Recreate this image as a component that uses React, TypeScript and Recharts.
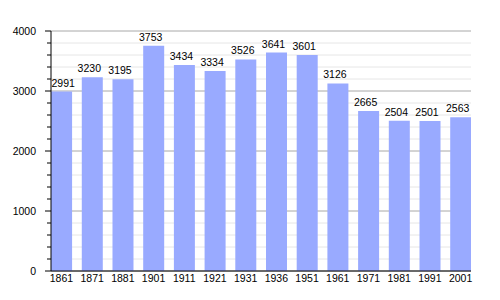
import React from "react";
import { BarChart, Bar, XAxis, YAxis, CartesianGrid, LabelList } from "recharts";

const years = ["1861", "1871", "1881", "1901", "1911", "1921", "1931", "1936", "1951", "1961", "1971", "1981", "1991", "2001"];
const population = [2991, 3230, 3195, 3753, 3434, 3334, 3526, 3641, 3601, 3126, 2665, 2504, 2501, 2563];
const majorTicks = [0, 1000, 2000, 3000, 4000];
const minorTicks = [200, 400, 600, 800, 1200, 1400, 1600, 1800, 2200, 2400, 2600, 2800, 3200, 3400, 3600, 3800];
const allTicks = [...majorTicks, ...minorTicks].sort((a, b) => a - b);

const data = years.map((y, i) => ({ idx: i, year: y, value: population[i] }));
const xTicks = years.map((_, i) => i);

const FONT = "'Liberation Sans', Arial, sans-serif";
const FS = 10.5;
const Y_AXIS_WIDTH = 51;
const MARGIN_LEFT = 0;
const PLOT_LEFT = MARGIN_LEFT + Y_AXIS_WIDTH;

const YTick = (props: any) => {
  const { x, y, payload } = props;
  const v = payload.value as number;
  const major = v % 1000 === 0;
  return (
    <g>
      <line x1={x - (major ? 6 : 4)} x2={x} y1={y} y2={y} stroke="#000" strokeWidth={1} />
      {major && (
        <text x={x - 15} y={y} dy="0.355em" textAnchor="end" fontSize={FS} fontFamily={FONT} fill="#000">
          {v}
        </text>
      )}
    </g>
  );
};

const ValueLabel = (props: any) => {
  const { x, y, width, value } = props;
  const s = String(value);
  const tw = s.length * FS * 0.556;
  let cx = Number(x) + Number(width) / 2 - 3;
  if (cx - tw / 2 < PLOT_LEFT + 0.5) cx = PLOT_LEFT + 0.5 + tw / 2;
  return (
    <text x={cx} y={Number(y) - 5} textAnchor="middle" fontSize={FS} fontFamily={FONT} fill="#000">
      {s}
    </text>
  );
};

export default function App() {
  return (
    <div style={{ position: "absolute", left: 0, top: 0, width: 500, height: 300, background: "#fff" }}>
      <BarChart width={500} height={300} data={data} margin={{ top: 31, right: 29, left: MARGIN_LEFT, bottom: 0 }}>
        <CartesianGrid vertical={false} horizontalValues={minorTicks} stroke="#e6e6e6" />
        <CartesianGrid vertical={false} horizontalValues={majorTicks} stroke="#a8a8a8" />
        <XAxis
          dataKey="idx"
          type="number"
          domain={[-0.34, 13.34]}
          allowDataOverflow
          ticks={xTicks}
          interval={0}
          tickFormatter={(i: number) => years[i]}
          tickLine={false}
          tickSize={0}
          tickMargin={4}
          height={29}
          axisLine={{ stroke: "#000" }}
          tick={{ fontSize: FS, fontFamily: FONT, fill: "#000" }}
        />
        <YAxis
          type="number"
          domain={[0, 4000]}
          ticks={allTicks}
          interval={0}
          width={Y_AXIS_WIDTH}
          tickLine={false}
          tickSize={0}
          tickMargin={0}
          axisLine={{ stroke: "#000" }}
          tick={<YTick />}
        />
        <Bar dataKey="value" fill="#99aaff" barSize={21} isAnimationActive={false}>
          <LabelList dataKey="value" content={<ValueLabel />} />
        </Bar>
      </BarChart>
    </div>
  );
}
